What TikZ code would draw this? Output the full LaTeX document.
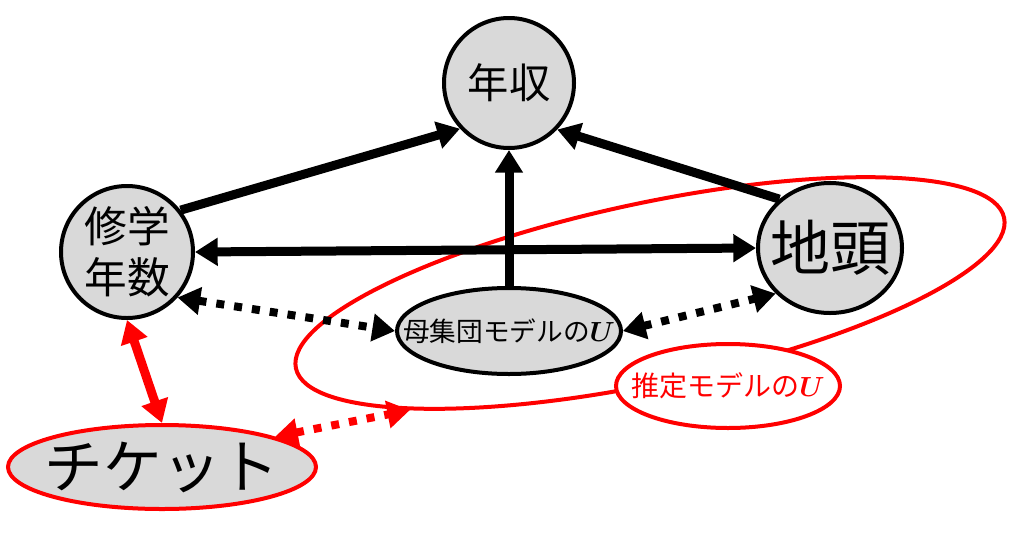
\documentclass[tikz,border=0pt]{standalone}
\usepackage{fontspec}
\setmainfont{Noto Sans CJK JP}
\usepackage{bm}
\usetikzlibrary{shapes.geometric,arrows.meta}
\definecolor{nodegray}{RGB}{217,217,217}

\begin{document}
\begin{tikzpicture}[x=0.75pt,y=0.75pt,yscale=-1,xscale=1,
  >={Triangle[length=17pt,width=20pt]},
  var/.style={draw,line width=3pt,fill=nodegray,inner sep=0pt},
  link/.style={line width=6.75pt},
  dotlink/.style={link,<->,line width=6pt,dash pattern=on 6pt off 7.5pt},
]
  \useasboundingbox (0,0) rectangle (1024,536);
  \node[draw=red,line width=3pt,ellipse,rotate=12,inner sep=0pt,minimum width=543pt,minimum height=135pt] (estarea) at (650,293) {};

  \node[var,circle,minimum size=97.5pt,font=\fontsize{31pt}{36pt}\selectfont] (nenshu) at (509,83) {年収};
  \node[var,circle,minimum size=99pt,align=center,font=\fontsize{32pt}{38pt}\selectfont] (shugaku) at (127,252) {修学\\年数};
  \node[var,ellipse,minimum width=108pt,minimum height=97.5pt,font=\fontsize{45pt}{50pt}\selectfont] (chizu) at (830,248) {\makebox[0pt]{地頭}};
  \node[var,ellipse,minimum width=168pt,minimum height=64.5pt,font=\fontsize{20pt}{24pt}\selectfont] (boshu) at (509,331) {\makebox[0pt]{母集団モデルの$\bm{U}$}};
  \node[var,ellipse,draw=red,minimum width=231pt,minimum height=63pt,font=\fontsize{44pt}{50pt}\selectfont] (ticket) at (162,467) {\makebox[0pt]{チケット}};
  \node[ellipse,draw=red,line width=3pt,fill=white,inner sep=0pt,minimum width=168pt,minimum height=63pt,text=red,font=\fontsize{21pt}{25pt}\selectfont] (suitei) at (728,386) {\makebox[0pt]{推定モデルの$\bm{U}$}};

  \draw[link,->] (shugaku.38) -- (nenshu.223);
  \draw[link,->] (chizu.136) -- (nenshu.316);
  \draw[link,->] (boshu.north) -- (nenshu.south);
  \draw[link,<->] (shugaku.east) -- (chizu.west);
  \draw[dotlink] (shugaku.318) -- (boshu.west);
  \draw[dotlink] (boshu.east) -- (chizu.220);
  \draw[link,<->,red] (shugaku.south) -- (ticket.north);
  \draw[dotlink,red] (ticket.15) -- (estarea.194);
\end{tikzpicture}
\end{document}
